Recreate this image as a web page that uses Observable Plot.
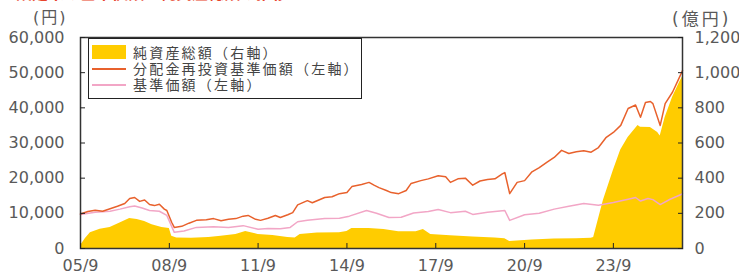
<!DOCTYPE html>
<html><head><meta charset="utf-8">
<script src="https://cdn.jsdelivr.net/npm/d3@7"></script>
<script src="https://cdn.jsdelivr.net/npm/@observablehq/plot@0.6"></script>
<style>
body{margin:0;background:#fff;}
#wrap{position:relative;width:739px;height:278px;overflow:hidden;font-family:"DejaVu Sans","Noto Sans CJK JP",sans-serif;background:#fff;}
#chart{position:absolute;left:0;top:0;}
.title{position:absolute;left:0;top:-18px;font-size:16px;line-height:20px;color:#E8452C;white-space:nowrap;font-family:"Noto Sans CJK JP",sans-serif;font-weight:bold;}
.unit{position:absolute;font-size:16px;color:#595959;white-space:nowrap;letter-spacing:2px;line-height:16px;}
.legend{position:absolute;left:88px;top:38px;width:272px;height:59px;border:1.5px solid #222;background:#fff;font-family:"Noto Sans CJK JP",sans-serif;font-size:14px;color:#444;}
.legend .sw{position:absolute;left:3px;width:34px;}
.legend .tx{position:absolute;left:44px;line-height:14px;height:14px;white-space:nowrap;letter-spacing:2.2px;}
</style></head><body>
<div id="wrap">
  <div class="title">■設定来の基準価額・純資産総額の推移</div>
  <div id="chart"></div>
  <div class="unit" style="left:33px;top:10px;">(円)</div>
  <div class="unit" style="left:672px;top:11px;letter-spacing:3px;font-size:17px;">(億円)</div>
  <div class="legend" id="legend"></div>
</div>
<script>
// ---- data ----
const seriesNames = ["純資産総額（右軸）", "分配金再投資基準価額（左軸）", "基準価額（左軸）"];
const seriesColors = ["#FFCC00", "#E8612C", "#F2A6C6"];

const reinvDates = ["2005-09","2005-12","2006-03","2006-06","2006-09","2006-12","2007-03","2007-05","2007-07","2007-09","2007-11","2008-01","2008-03","2008-05","2008-07","2008-08","2008-10","2008-11","2009-02","2009-05","2009-08","2009-12","2010-03","2010-06","2010-09","2010-12","2011-03","2011-05","2011-08","2011-10","2012-01","2012-04","2012-06","2012-09","2012-11","2013-01","2013-05","2013-07","2013-12","2014-03","2014-06","2014-09","2014-11","2015-03","2015-06","2015-08","2015-10","2016-01","2016-03","2016-06","2016-09","2016-11","2017-03","2017-06","2017-10","2018-01","2018-03","2018-06","2018-09","2018-12","2019-03","2019-06","2019-09","2019-12","2020-01","2020-03","2020-06","2020-09","2020-12","2021-03","2021-06","2021-09","2021-12","2022-03","2022-06","2022-09","2022-12","2023-03","2023-06","2023-09","2023-12","2024-03","2024-06","2024-08","2024-10","2024-12","2025-01","2025-04","2025-06","2025-09","2025-12","2026-01"];
const reinvValues = [9800,10500,10900,10600,11300,12000,12800,14200,14500,13400,13800,12500,12200,12600,11200,10800,7400,6000,6300,7200,8000,8200,8500,7900,8300,8500,9200,9400,8300,8000,8600,9400,8800,9600,10200,12400,13600,13000,14500,14700,15600,15900,17600,18200,18800,18000,17300,16500,15900,15600,16500,18500,19300,19800,20700,20400,18800,19800,20000,18000,19200,19600,19800,21200,21600,15600,18800,19300,21800,23000,24500,25900,27900,27000,27500,27800,27400,28700,31500,33000,35000,39800,40800,37300,41500,41800,41200,35000,41200,44500,49000,50600];

const navDates = ["2005-09","2006-03","2006-09","2007-01","2007-05","2007-07","2007-10","2008-01","2008-05","2008-08","2008-11","2009-03","2009-08","2010-03","2010-09","2011-03","2011-09","2012-01","2012-06","2012-10","2013-01","2013-05","2013-12","2014-06","2014-10","2015-05","2015-09","2016-02","2016-07","2016-12","2017-06","2017-10","2018-03","2018-09","2018-12","2019-06","2020-01","2020-03","2020-09","2021-03","2021-09","2022-03","2022-09","2023-03","2023-09","2024-03","2024-06","2024-08","2024-11","2025-01","2025-04","2025-08","2025-12","2026-01"];
const navValues = [9700,10300,10600,11200,11900,12100,11500,10800,10600,9400,4600,5000,6000,6200,6000,6500,5500,5700,5600,6000,7600,8000,8500,8600,9200,10800,10000,8800,8900,10100,10500,11100,10200,10600,9700,10300,10800,8000,9600,10000,11200,12000,12800,12300,13100,14000,14500,13500,14200,13900,12500,14000,15200,15600];

const aumDates = ["2005-09","2005-11","2006-01","2006-05","2006-09","2007-01","2007-05","2007-08","2007-11","2008-02","2008-06","2008-09","2008-10","2008-12","2009-06","2010-01","2010-06","2010-12","2011-04","2011-09","2012-03","2012-09","2012-12","2013-02","2013-09","2014-06","2014-09","2014-11","2015-06","2015-12","2016-06","2017-01","2017-04","2017-07","2018-03","2018-12","2019-09","2020-01","2020-03","2020-12","2021-09","2022-06","2022-12","2023-01","2023-05","2023-09","2023-12","2024-03","2024-07","2024-08","2024-12","2025-03","2025-04","2025-06","2025-09","2025-12","2026-01"];
const aumValues = [15,57,90,110,120,145,171,165,154,135,120,114,70,60,58,62,70,80,97,80,74,63,60,80,88,90,96,114,114,108,95,95,108,80,72,66,60,55,40,48,54,56,58,62,273,444,560,631,700,690,688,660,640,745,860,950,975];

const leftTicks = [0,10000,20000,30000,40000,50000,60000];
const rightTicks = [0,200,400,600,800,1000,1200];
const xTickDates = ["2005-09","2008-09","2011-09","2014-09","2017-09","2020-09","2023-09"];
const xTickLabels = ["05/9","08/9","11/9","14/9","17/9","20/9","23/9"];

// ---- build ----
const parse = d3.utcParse("%Y-%m");
const factor = leftTicks[leftTicks.length-1] / rightTicks[rightTicks.length-1];
const mk = (ds, vs) => ds.map((d,i) => ({date: parse(d), value: vs[i]}));
const reinv = mk(reinvDates, reinvValues);
const nav = mk(navDates, navValues);
const aum = mk(aumDates, aumValues);
const xLabelMap = new Map(xTickDates.map((d,i) => [+parse(d), xTickLabels[i]]));
const fmt = d3.format(",");

const chart = Plot.plot({
  width: 739, height: 278,
  marginLeft: 80, marginRight: 57, marginTop: 37, marginBottom: 30,
  x: {type: "utc", domain: [parse(reinvDates[0]), parse(reinvDates[reinvDates.length-1])]},
  y: {domain: [leftTicks[0], leftTicks[leftTicks.length-1]]},
  style: {fontFamily: "DejaVu Sans", fontSize: "16px", color: "#595959", background: "transparent", overflow: "visible"},
  marks: [
    Plot.areaY(aum, {x: "date", y: d => d.value * factor, fill: seriesColors[0]}),
    Plot.lineY(nav, {x: "date", y: "value", stroke: seriesColors[2], strokeWidth: 1.5}),
    Plot.lineY(reinv, {x: "date", y: "value", stroke: seriesColors[1], strokeWidth: 1.5}),
    Plot.frame({stroke: "#333", strokeWidth: 1.5}),
    Plot.axisY(leftTicks, {anchor: "left", tickSize: -5, tickPadding: 21, tickFormat: fmt, label: null, stroke: "#222"}),
    Plot.axisY(leftTicks, {anchor: "right", tickSize: -5, tickPadding: 17, tickFormat: d => fmt(d / factor), label: null, stroke: "#222"}),
    Plot.axisX(xTickDates.map(parse), {anchor: "bottom", tickSize: -5, tickPadding: 16, tickFormat: d => xLabelMap.get(+d), label: null, stroke: "#222"})
  ]
});
document.getElementById("chart").appendChild(chart);

// legend
const lg = document.getElementById("legend");
const rows = [6, 22, 38];
seriesNames.forEach((n, i) => {
  const sw = document.createElement("div");
  sw.className = "sw";
  if (i === 0) { sw.style.top = "6px"; sw.style.height = "14px"; sw.style.background = seriesColors[0]; }
  else { sw.style.top = (rows[i] + 7) + "px"; sw.style.height = "2px"; sw.style.background = seriesColors[i]; }
  lg.appendChild(sw);
  const tx = document.createElement("div");
  tx.className = "tx";
  tx.style.top = rows[i] + "px";
  tx.textContent = n;
  lg.appendChild(tx);
});
</script>
</body></html>
